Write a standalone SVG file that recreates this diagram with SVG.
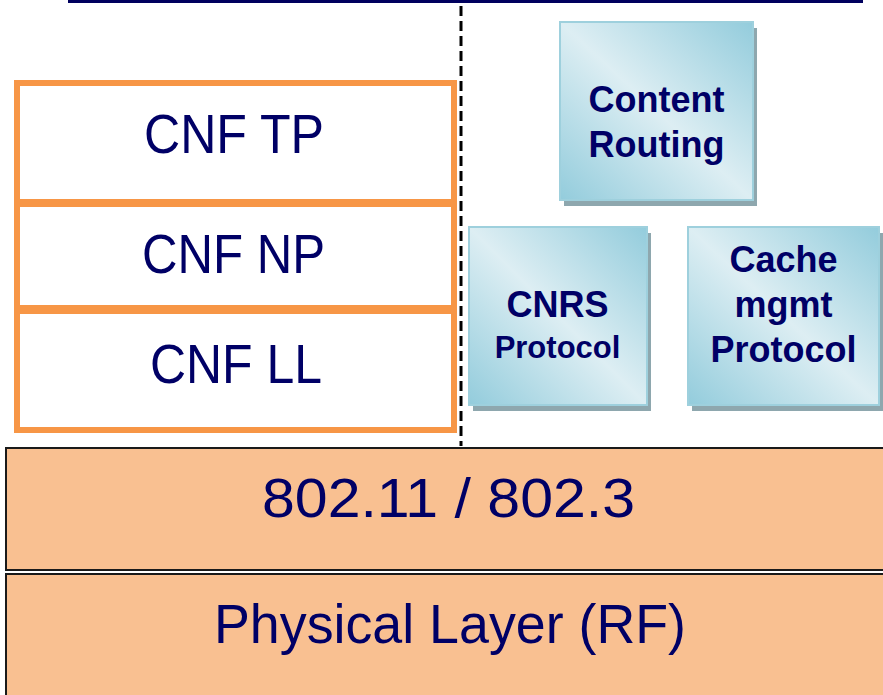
<svg xmlns="http://www.w3.org/2000/svg" width="883" height="695" viewBox="0 0 883 695">
  <style>
    .orange { fill: #FFFFFF; stroke: #F79646; stroke-width: 6; }
    .peach { fill: #F9C091; stroke: #1A1A1A; stroke-width: 2; }
    .big { font-family: "Liberation Sans", Arial, sans-serif; font-size: 56px; fill: #000066; }
    .blue { fill: url(#blueGrad); stroke: #9ED0DD; stroke-width: 2; }
    .shadow { fill: #8EA7AE; }
    .bold { font-family: "Liberation Sans", Arial, sans-serif; font-weight: bold; fill: #000066; text-anchor: middle; }
  </style>
  <defs>
    <linearGradient id="blueGrad" x1="1" y1="0" x2="0" y2="1">
      <stop offset="0" stop-color="#93CCDC"/>
      <stop offset="0.5" stop-color="#DDEEF3"/>
      <stop offset="1" stop-color="#93CCDC"/>
    </linearGradient>
  </defs>
  <rect width="883" height="695" fill="#FFFFFF"/>

  <g id="separators">
    <rect x="68" y="0" width="795" height="3" fill="#00005E"/>
    <line x1="461" y1="6" x2="461" y2="446" stroke="#000000" stroke-width="3" stroke-dasharray="10 5"/>
  </g>

  <g id="cnf-tp">
    <rect class="orange" x="17" y="83" width="437" height="119"/>
    <text class="big" x="144" y="153" textLength="180" lengthAdjust="spacingAndGlyphs">CNF TP</text>
  </g>
  <g id="cnf-np">
    <rect class="orange" x="17" y="204" width="437" height="104"/>
    <text class="big" x="142" y="273" textLength="183" lengthAdjust="spacingAndGlyphs">CNF NP</text>
  </g>
  <g id="cnf-ll">
    <rect class="orange" x="17" y="311" width="437" height="119"/>
    <text class="big" x="150" y="383" textLength="172" lengthAdjust="spacingAndGlyphs">CNF LL</text>
  </g>

  <g id="content-routing">
    <rect class="shadow" x="564" y="28" width="193" height="178"/>
    <rect class="blue" x="560" y="22" width="193" height="178"/>
    <text class="bold" font-size="36" x="656.5" y="112">Content</text>
    <text class="bold" font-size="36" x="656.5" y="157">Routing</text>
  </g>
  <g id="cnrs-protocol">
    <rect class="shadow" x="473" y="233" width="178" height="178"/>
    <rect class="blue" x="469" y="227" width="178" height="178"/>
    <text class="bold" font-size="36" x="557.5" y="317">CNRS</text>
    <text class="bold" font-size="31" x="557.5" y="358">Protocol</text>
  </g>
  <g id="cache-mgmt-protocol">
    <rect class="shadow" x="692" y="233" width="191" height="178"/>
    <rect class="blue" x="688" y="227" width="191" height="178"/>
    <text class="bold" font-size="36" x="783.5" y="272">Cache</text>
    <text class="bold" font-size="36" x="783.5" y="317">mgmt</text>
    <text class="bold" font-size="36" x="783.5" y="362">Protocol</text>
  </g>

  <g id="mac-802">
    <rect class="peach" x="6" y="448" width="890" height="122"/>
    <text class="big" x="262" y="517" textLength="373" lengthAdjust="spacingAndGlyphs">802.11 / 802.3</text>
  </g>
  <g id="physical-layer">
    <rect class="peach" x="6" y="574" width="890" height="130"/>
    <text class="big" x="214" y="643" textLength="472" lengthAdjust="spacingAndGlyphs">Physical Layer (RF)</text>
  </g>
</svg>
